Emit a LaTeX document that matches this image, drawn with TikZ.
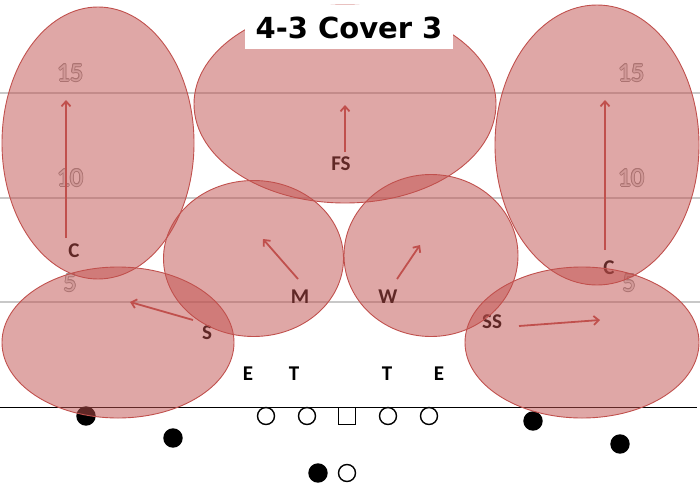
\documentclass[tikz,border=0pt]{standalone}
\usepackage{fontspec}
\setmainfont{Carlito}
\newfontfamily\titlefont{DejaVu Sans}
\usetikzlibrary{arrows.meta}
\definecolor{zred}{HTML}{C0504D}
\definecolor{yardgray}{RGB}{200,200,200}
\definecolor{numout}{RGB}{150,150,150}
\definecolor{numin}{RGB}{228,228,228}
\tikzset{
  zone/.style={draw=zred, line width=0.9pt, fill=zred, fill opacity=0.5},
  route/.style={draw=zred, line width=1.8pt, -{Straight Barb[length=5pt,width=9pt]}},
  yardline/.style={draw=yardgray, line width=1.1pt},
  los/.style={draw=black, line width=0.9pt},
  lbl/.style={inner sep=0pt, font=\bfseries\fontsize{21}{24}\selectfont, text=black},
  yardout/.style={inner sep=0pt, font=\fontsize{26}{30}\selectfont, text=numout},
  yardin/.style={inner sep=0pt, font=\fontsize{26}{30}\selectfont, text=numin},
  dline/.style={draw=black, line width=1.4pt, fill=black, circle, minimum size=18pt, inner sep=0pt},
  oline/.style={draw=black, line width=1.4pt, fill=white, circle, minimum size=17pt, inner sep=0pt},
  cline/.style={draw=black, line width=1.4pt, fill=white, rectangle, minimum size=17pt, inner sep=0pt},
  titlebox/.style={fill=white, minimum width=208pt, minimum height=44pt, inner sep=0pt,
     font=\titlefont\bfseries\fontsize{29}{32}\selectfont}
}
\newcommand\yardnum[3]{%
  \foreach \a in {0,45,...,315} \node[yardout] at ([shift={(\a:0.8)}]#2) {#3};
  \node[yardin] (#1) at (#2) {#3};}
\begin{document}
\begin{tikzpicture}[x=1pt,y=-1pt]
\useasboundingbox (0,0) rectangle (700,484);
% field lines
\coordinate (y15l) at (0,93);   \coordinate (y15r) at (700,93);
\coordinate (y10l) at (0,198);  \coordinate (y10r) at (700,198);
\coordinate (y5l)  at (0,302);  \coordinate (y5r)  at (700,302);
\coordinate (losl) at (0,407);  \coordinate (losr) at (697,407);
\draw[yardline] (y15l) -- (y15r);
\draw[yardline] (y10l) -- (y10r);
\draw[yardline] (y5l) -- (y5r);
\draw[los] (losl) -- (losr);
% yard numbers
\yardnum{n15l}{70,73}{15}
\yardnum{n10l}{70,178}{10}
\yardnum{n5l}{70,283}{5}
\yardnum{n15r}{631,73}{15}
\yardnum{n10r}{631,178}{10}
\yardnum{n5r}{629,283}{5}
% defenders
\node[lbl] (FS) at (341,164) {FS};
\node[lbl] (CL) at (74,251) {C};
\node[lbl] (CR) at (609,268) {C};
\node[lbl] (M) at (300,297) {M};
\node[lbl] (W) at (388,297) {W};
\node[lbl] (S) at (207,333) {S};
\node[lbl] (SS) at (492,322) {SS};
\node[lbl] (E1) at (248,374) {E};
\node[lbl] (T1) at (294,374) {T};
\node[lbl] (T2) at (387,374) {T};
\node[lbl] (E2) at (439,374) {E};
% offense
\node[dline] (wr1) at (86,416) {};
\node[dline] (wr2) at (173,438) {};
\node[dline] (wr3) at (533,421) {};
\node[dline] (wr4) at (620,444) {};
\node[dline] (rb) at (318,473) {};
\node[oline] (qb) at (347,473) {};
\node[oline] (lt) at (266,416) {};
\node[oline] (lg) at (307,416) {};
\node[cline] (ctr) at (347,416) {};
\node[oline] (rg) at (388,416) {};
\node[oline] (rt) at (429,416) {};
% zones
\draw[zone] (98,143) ellipse [x radius=96pt, y radius=136pt];
\draw[zone] (345,104) ellipse [x radius=151pt, y radius=99pt];
\draw[zone] (597,145) ellipse [x radius=102pt, y radius=140pt];
\draw[zone] (253.5,258.5) ellipse [x radius=90pt, y radius=78pt];
\draw[zone] (431,255.5) ellipse [x radius=87pt, y radius=81pt];
\draw[zone] (118,342.5) ellipse [x radius=116pt, y radius=75.5pt];
\draw[zone] (582,342.5) ellipse [x radius=117pt, y radius=75.5pt];
% routes
\coordinate (cls) at (66,238);  \coordinate (cle) at (66,100);
\coordinate (fss) at (345,152); \coordinate (fse) at (345,105);
\coordinate (crs) at (605,250); \coordinate (cre) at (605,100);
\coordinate (ms) at (298,279);  \coordinate (me) at (263,239);
\coordinate (ws) at (397,279);  \coordinate (we) at (420,245);
\coordinate (ss1) at (193,320); \coordinate (se) at (130,302);
\coordinate (sss) at (519,326); \coordinate (sse) at (600,320);
\draw[route] (cls) -- (cle);
\draw[route] (fss) -- (fse);
\draw[route] (crs) -- (cre);
\draw[route] (ms) -- (me);
\draw[route] (ws) -- (we);
\draw[route] (ss1) -- (se);
\draw[route] (sss) -- (sse);
% title
\node[titlebox] (title) at (349,27.5) {4-3 Cover 3};
\end{tikzpicture}
\end{document}
